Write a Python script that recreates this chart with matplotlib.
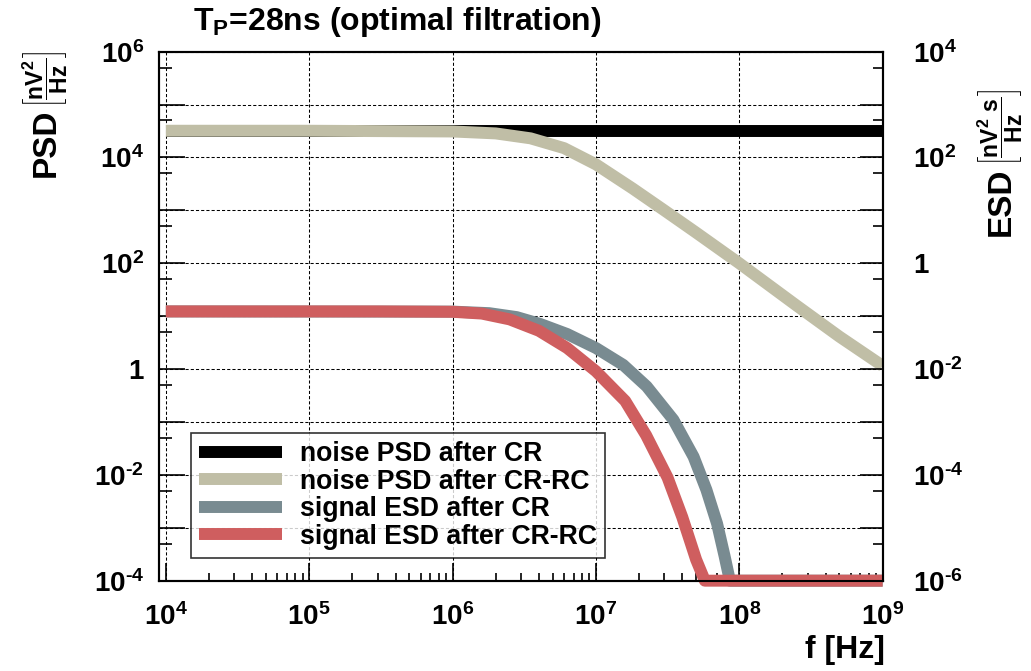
import numpy as np
import matplotlib
matplotlib.use('Agg')
import matplotlib.pyplot as plt
from matplotlib.ticker import FixedLocator, FuncFormatter, NullFormatter

plt.rcParams['font.family'] = ['Liberation Sans', 'DejaVu Sans']
plt.rcParams['font.weight'] = 'bold'
plt.rcParams['mathtext.fontset'] = 'custom'
plt.rcParams['mathtext.rm'] = 'Liberation Sans:bold'
plt.rcParams['mathtext.bf'] = 'Liberation Sans:bold'
plt.rcParams['mathtext.it'] = 'Liberation Sans:bold'
plt.rcParams['mathtext.default'] = 'bf'

# noise PSD (left axis, nV^2/Hz)
f_cr_noise = [1e4, 1e5, 1e6, 1e7, 1e8, 1e9]
psd_cr = [3.2e4, 3.2e4, 3.2e4, 3.2e4, 3.2e4, 3.2e4]

f_crrc_noise = [1e4, 1e5, 1e6, 2e6, 3.5e6, 6e6, 1e7, 1.8e7, 3e7, 5e7, 1e8, 2.5e8, 5e8, 1e9]
psd_crrc = [3.2e4, 3.2e4, 3.1e4, 2.85e4, 2.3e4, 1.5e4, 7.4e3, 2.6e3, 1.0e3, 3.8e2, 1.0e2, 1.6e1, 4.1, 1.15]

# signal ESD (right axis, nV^2 s/Hz)
f_cr_sig = [1e4, 1e6, 1.8e6, 2.8e6, 4.1e6, 6.3e6, 1e7, 1.55e7, 2.26e7, 3.47e7, 4.8e7, 5.9e7, 7e7, 7.9e7, 8.6e7, 1e9]
esd_cr = [0.123, 0.122, 0.114, 0.096, 0.071, 0.046, 0.025, 0.012, 4.7e-3, 1.1e-3, 2.2e-4, 5.2e-5, 1.2e-5, 2.9e-6, 1e-6, 1e-6]

f_crrc_sig = [1e4, 3e5, 1e6, 1.6e6, 2.5e6, 4e6, 6.3e6, 1e7, 1.6e7, 2.24e7, 3.16e7, 4e7, 5e7, 5.75e7, 1e9]
esd_crrc = [0.123, 0.123, 0.121, 0.112, 0.087, 0.053, 0.025, 9.1e-3, 2.5e-3, 5.6e-4, 8.9e-5, 1.6e-5, 2.5e-6, 1e-6, 1e-6]

labels = ['noise PSD after CR', 'noise PSD after CR-RC', 'signal ESD after CR', 'signal ESD after CR-RC']
colors = ['#000000', '#c0bea6', '#798b91', '#cf5e5f']

lw = 8.6

fig = plt.figure(figsize=(10.31, 6.71), dpi=100)
ax = fig.add_axes([0.1545, 0.1346, 0.7016, 0.7884])
ax2 = ax.twinx()

h1, = ax.plot(f_cr_noise, psd_cr, color=colors[0], lw=lw, solid_capstyle='butt')
h2, = ax.plot(f_crrc_noise, psd_crrc, color=colors[1], lw=lw, solid_capstyle='butt', solid_joinstyle='round')
h3, = ax2.plot(f_cr_sig, esd_cr, color=colors[2], lw=lw, solid_capstyle='butt', solid_joinstyle='round', clip_on=False)
h4, = ax2.plot(f_crrc_sig, esd_crrc, color=colors[3], lw=lw, solid_capstyle='butt', solid_joinstyle='round', clip_on=False)

ax.set_xscale('log')
ax.set_yscale('log')
ax2.set_yscale('log')
ax.set_xlim(9e3, 1e9)
ax.set_ylim(1e-4, 1e6)
ax2.set_ylim(1e-6, 1e4)


def dec_label(v, pos):
    e = int(round(np.log10(v)))
    if e % 2:
        return ''
    if e == 0:
        return '1'
    if e < 0:
        return r'$10^{\text{-}%d}$' % (-e)
    return r'$10^{%d}$' % e


def x_label(v, pos):
    e = int(round(np.log10(v)))
    return r'$10^{%d}$' % e


ax.xaxis.set_major_locator(FixedLocator([10.0 ** k for k in range(4, 10)]))
ax.xaxis.set_minor_locator(FixedLocator([m * 10.0 ** k for k in range(3, 9) for m in range(2, 10)]))
ax.xaxis.set_major_formatter(FuncFormatter(x_label))
ax.xaxis.set_minor_formatter(NullFormatter())

ax.yaxis.set_major_locator(FixedLocator([10.0 ** k for k in range(-4, 7)]))
ax.yaxis.set_minor_locator(FixedLocator([5 * 10.0 ** k for k in range(-4, 6)]))
ax.yaxis.set_major_formatter(FuncFormatter(dec_label))
ax.yaxis.set_minor_formatter(NullFormatter())

ax2.yaxis.set_major_locator(FixedLocator([10.0 ** k for k in range(-6, 5)]))
ax2.yaxis.set_minor_locator(FixedLocator([5 * 10.0 ** k for k in range(-6, 4)]))
ax2.yaxis.set_major_formatter(FuncFormatter(dec_label))
ax2.yaxis.set_minor_formatter(NullFormatter())

ax.tick_params(axis='x', which='major', direction='in', length=13, width=1.2, labelsize=20, pad=16, top=False)
ax.tick_params(axis='x', which='minor', direction='in', length=6, width=1.2, top=False)
ax.tick_params(axis='y', which='major', direction='in', length=18.5, width=1.2, labelsize=20, pad=11, right=False)
ax.tick_params(axis='y', which='minor', direction='in', length=9, width=1.2, right=False)
ax2.tick_params(axis='y', which='major', direction='in', length=16.5, width=1.2, labelsize=20, pad=22)
ax2.tick_params(axis='y', which='minor', direction='in', length=7.5, width=1.2)

ax.grid(True, which='major', color='black', lw=0.75, linestyle=(0, (3, 2)))
ax.set_axisbelow(True)
for sp in ax.spines.values():
    sp.set_linewidth(1.5)
for sp in ax2.spines.values():
    sp.set_linewidth(1.5)

W, H = 1031.0, 671.0
fig.text(193 / W, 1 - 22 / H, r'$T_P$=28ns (optimal filtration)', ha='left', va='center', fontsize=23)

# y axis titles: quantity name + unit fraction, rotated, baseline at the same x
fig.text(55 / W, 1 - 177 / H, 'PSD', rotation=90, rotation_mode='anchor',
         ha='left', va='baseline', fontsize=24)
fig.text(55 / W, 1 - 108 / H, r'$\left[\dfrac{nV^2}{Hz}\right]$', rotation=90, rotation_mode='anchor',
         ha='left', va='baseline', fontsize=16.5)
fig.text(1010 / W, 1 - 236 / H, 'ESD', rotation=90, rotation_mode='anchor',
         ha='left', va='baseline', fontsize=24)
fig.text(1010 / W, 1 - 166 / H, r'$\left[\dfrac{nV^2\ s}{Hz}\right]$', rotation=90, rotation_mode='anchor',
         ha='left', va='baseline', fontsize=16.5)

fig.text(885 / W, 1 - 650 / H, 'f [Hz]', ha='right', va='center', fontsize=23)

leg = ax2.legend([h1, h2, h3, h4], labels, loc='upper left', bbox_to_anchor=(191 / W, 1 - 433 / H),
                 bbox_transform=fig.transFigure, borderaxespad=0, fontsize=19.2, frameon=True, fancybox=False,
                 handlelength=3.1, handletextpad=0.7, borderpad=0.3, labelspacing=0.06)
leg.get_frame().set_edgecolor('black')
leg.get_frame().set_linewidth(1.2)

fig.savefig('out.png', dpi=100)
